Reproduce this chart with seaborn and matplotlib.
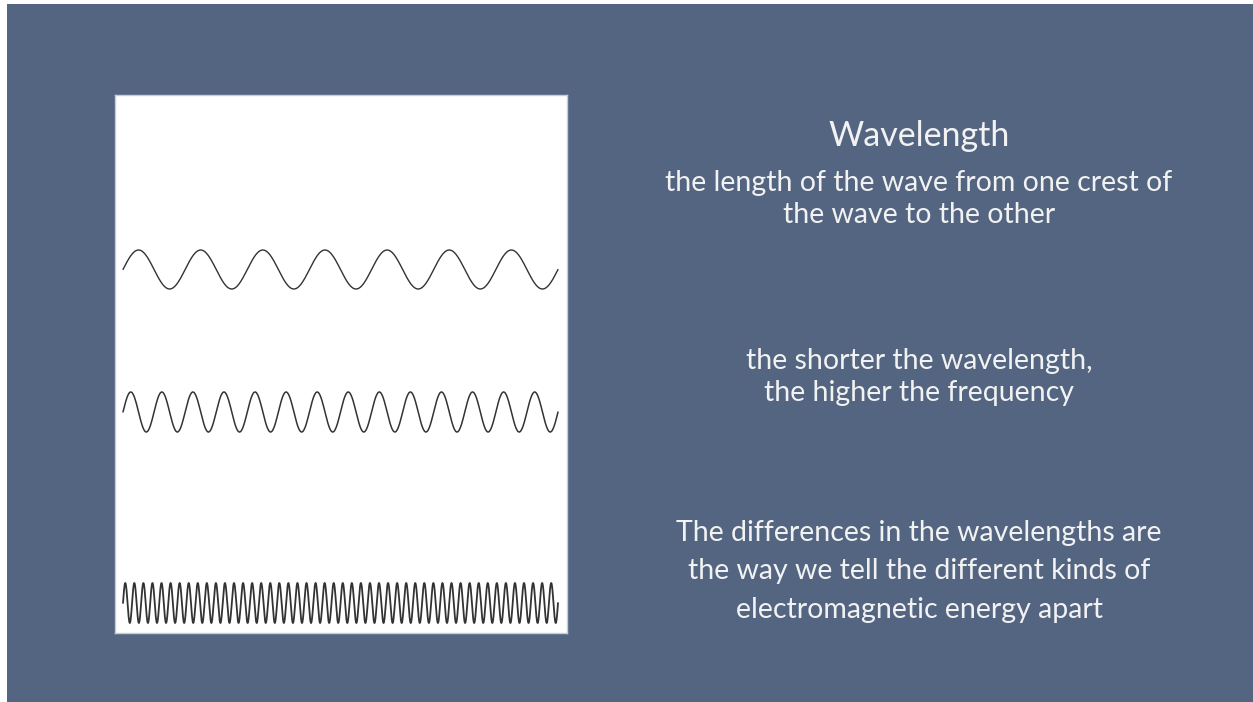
import numpy as np
import pandas as pd
import matplotlib
matplotlib.use("Agg")
import matplotlib.pyplot as plt
from matplotlib.patches import Rectangle
import seaborn as sns

# ---- data ----
wave_names = ["long", "medium", "short"]
wave_cycles = [7, 14, 48]          # full periods across the panel
wave_centers = [269.5, 412, 603]   # vertical centre (pixel units of the panel)
wave_amplitude = [19.5, 20, 20]
x_start, x_end = 123, 558

title_text = "Wavelength"
def_lines = ["the length of the wave from one crest of", "the wave to the other"]
mid_lines = ["the shorter the wavelength,", "the higher the frequency"]
low_lines = ["The differences in the wavelengths are",
             "the way we tell the different kinds of",
             "electromagnetic energy apart"]

BG = "#536581"
W, H = 1253, 702

sns.set_theme(style="white")
plt.rcParams['font.family'] = ['Lato', 'DejaVu Sans']

fig = plt.figure(figsize=(W / 100, H / 100), dpi=100)
fig.patch.set_facecolor("white")
fig.add_artist(Rectangle((7 / W, 0), 1 - 7 / W, (H - 4) / H, transform=fig.transFigure,
                         facecolor=BG, edgecolor="none", zorder=0))

# white panel axes
pl, pr, pt, pb = 115, 567, 95, 633
ax = fig.add_axes([pl / W, 1 - pb / H, (pr - pl) / W, (pb - pt) / H])
ax.set_facecolor("white")
ax.set_xlim(pl, pr)
ax.set_ylim(pb, pt)

rows = []
for name, cyc, c, a in zip(wave_names, wave_cycles, wave_centers, wave_amplitude):
    n = max(800, cyc * 60)
    t = np.linspace(0, 1, n)
    xs = x_start + t * (x_end - x_start)
    ys = c - a * np.sin(2 * np.pi * cyc * t)
    rows.append(pd.DataFrame({"x": xs, "y": ys, "wave": name}))
df = pd.concat(rows, ignore_index=True)

widths = {"long": 1.0, "medium": 1.1, "short": 1.3}
for name in wave_names:
    sub = df[df["wave"] == name]
    sns.lineplot(data=sub, x="x", y="y", ax=ax, color="#333333", linewidth=widths[name],
                 sort=False, estimator=None)

ax.set_xticks([])
ax.set_yticks([])
ax.set_xlabel("")
ax.set_ylabel("")
for s in ax.spines.values():
    s.set_color("#c8ccd4")
    s.set_linewidth(1.0)

def put(txt, xpix, ypix, size):
    fig.text(xpix / W, 1 - ypix / H, txt, ha="center", va="center",
             color="#f2f2f2", fontsize=size)

cx = 919
put(title_text, cx, 136, 24.5)
for i, l in enumerate(def_lines):
    put(l, cx, 183 + 32 * i, 20.5)
for i, l in enumerate(mid_lines):
    put(l, cx, 361 + 32 * i, 20.5)
for i, l in enumerate(low_lines):
    put(l, cx, 533 + 38.5 * i, 20.5)

fig.savefig("out.png", dpi=100, facecolor=fig.get_facecolor())
